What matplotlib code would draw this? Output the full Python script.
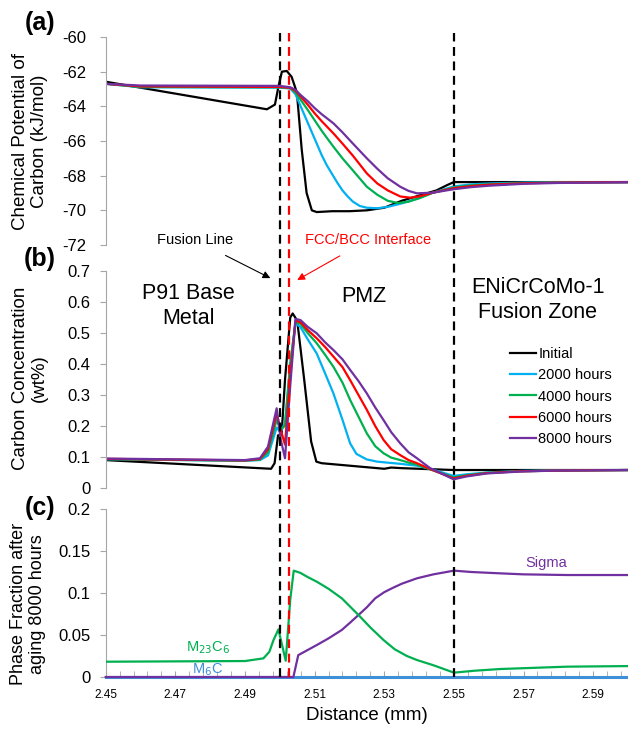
import numpy as np
import matplotlib
matplotlib.use('Agg')
import matplotlib.pyplot as plt
from matplotlib.lines import Line2D
from matplotlib.transforms import blended_transform_factory

plt.rcParams['font.family'] = ['Liberation Sans', 'DejaVu Sans']
plt.rcParams['axes.unicode_minus'] = False

# --- data ---
series_names = ['Initial', '2000 hours', '4000 hours', '6000 hours', '8000 hours']
series_colors = ['#000000', '#00b0f0', '#00b050', '#ff0000', '#7030a0']

# (a) chemical potential of carbon, kJ/mol
x_mu_init = [2.45, 2.4963, 2.4986, 2.4996, 2.5006, 2.502, 2.5034, 2.5049, 2.5063, 2.5077,
             2.5092, 2.5106, 2.515, 2.52, 2.525, 2.53, 2.535, 2.54, 2.545, 2.548, 2.55, 2.56, 2.60]
mu_init = [-62.58, -64.17, -63.9, -62.87, -62.0, -61.96, -62.3, -63.2, -66.5, -69.0,
           -70.0, -70.1, -70.05, -70.05, -70.0, -69.85, -69.45, -69.15, -68.85, -68.55,
           -68.37, -68.37, -68.37]
x_mu_2000 = [2.45, 2.46, 2.50, 2.503, 2.5045, 2.506, 2.5075, 2.509, 2.5105, 2.512, 2.5135,
             2.515, 2.5165, 2.518, 2.5195, 2.521, 2.523, 2.525, 2.528, 2.531, 2.535, 2.54,
             2.544, 2.55, 2.555, 2.56, 2.57, 2.58, 2.60]
mu_2000 = [-62.7, -62.9, -62.92, -62.97, -63.3, -64.0, -64.7, -65.4, -66.1, -66.8, -67.4,
           -67.9, -68.4, -68.85, -69.2, -69.5, -69.75, -69.85, -69.88, -69.8, -69.6, -69.3,
           -68.98, -68.62, -68.5, -68.45, -68.4, -68.38, -68.37]
x_mu_4000 = [2.45, 2.46, 2.50, 2.503, 2.5045, 2.506, 2.508, 2.510, 2.512, 2.514, 2.5154,
             2.518, 2.521, 2.525, 2.528, 2.531, 2.534, 2.537, 2.54, 2.544, 2.55, 2.555,
             2.56, 2.57, 2.58, 2.60]
mu_4000 = [-62.7, -62.88, -62.9, -62.95, -63.2, -63.63, -64.2, -64.8, -65.4, -65.95, -66.33,
           -67.0, -67.7, -68.64, -69.1, -69.45, -69.58, -69.5, -69.3, -68.98, -68.68,
           -68.56, -68.5, -68.42, -68.39, -68.37]
x_mu_6000 = [2.45, 2.46, 2.50, 2.503, 2.5045, 2.506, 2.508, 2.510, 2.512, 2.5154, 2.518,
             2.521, 2.525, 2.528, 2.531, 2.5346, 2.5375, 2.54, 2.544, 2.55, 2.555, 2.56,
             2.57, 2.58, 2.60]
mu_6000 = [-62.7, -62.85, -62.88, -62.93, -63.1, -63.44, -63.9, -64.4, -64.85, -65.56,
           -66.15, -66.85, -67.87, -68.45, -68.85, -69.2, -69.27, -69.2, -68.98, -68.72,
           -68.6, -68.52, -68.44, -68.4, -68.37]
x_mu_8000 = [2.45, 2.46, 2.50, 2.503, 2.5045, 2.506, 2.508, 2.510, 2.512, 2.5154, 2.518,
             2.521, 2.525, 2.528, 2.531, 2.5346, 2.537, 2.5394, 2.544, 2.55, 2.555, 2.56,
             2.57, 2.58, 2.60]
mu_8000 = [-62.7, -62.8, -62.82, -62.9, -63.05, -63.35, -63.7, -64.1, -64.45, -64.98,
           -65.5, -66.15, -67.0, -67.6, -68.15, -68.64, -68.88, -69.02, -68.98, -68.78,
           -68.66, -68.58, -68.47, -68.42, -68.38]

# (b) carbon concentration, wt%
x_c_init = [2.45, 2.4975, 2.4985, 2.4995, 2.5005, 2.5015, 2.503, 2.5037, 2.505, 2.507,
            2.509, 2.5105, 2.512, 2.53, 2.532, 2.535, 2.55, 2.60]
c_init = [0.090, 0.062, 0.08, 0.17, 0.17, 0.35, 0.55, 0.563, 0.54, 0.35, 0.15, 0.085,
          0.080, 0.062, 0.066, 0.064, 0.058, 0.058]
x_c_left = [2.45, 2.49, 2.4943, 2.4966, 2.4991, 2.5002, 2.5015, 2.503, 2.5045, 2.5059, 2.508]
x_c_2000 = x_c_left + [2.5106, 2.513, 2.5154, 2.518, 2.5202, 2.522, 2.525, 2.528, 2.5298,
                       2.5346, 2.5394, 2.5432, 2.5499, 2.5535, 2.5595, 2.569, 2.5786, 2.60]
c_2000 = [0.093, 0.088, 0.09, 0.105, 0.195, 0.18, 0.21, 0.40, 0.53, 0.52, 0.48,
          0.434, 0.37, 0.305, 0.22, 0.144, 0.11, 0.092, 0.085, 0.083, 0.078, 0.072, 0.062,
          0.039, 0.044, 0.05, 0.055, 0.057, 0.058]
x_c_4000 = x_c_left + [2.5106, 2.513, 2.5154, 2.518, 2.5202, 2.5226, 2.525, 2.5274, 2.5298,
                       2.532, 2.5346, 2.537, 2.5394, 2.5432, 2.5499, 2.5535, 2.5595, 2.569,
                       2.5786, 2.60]
c_4000 = [0.093, 0.088, 0.092, 0.115, 0.22, 0.19, 0.20, 0.40, 0.535, 0.53, 0.50,
          0.467, 0.43, 0.391, 0.34, 0.284, 0.23, 0.176, 0.135, 0.112, 0.098, 0.09, 0.082,
          0.075, 0.06, 0.034, 0.041, 0.049, 0.054, 0.056, 0.058]
x_c_6000 = x_c_4000
c_6000 = [0.094, 0.089, 0.094, 0.125, 0.24, 0.19, 0.14, 0.36, 0.54, 0.535, 0.51,
          0.483, 0.455, 0.424, 0.39, 0.348, 0.30, 0.252, 0.20, 0.155, 0.125, 0.106, 0.09,
          0.08, 0.061, 0.031, 0.039, 0.048, 0.054, 0.056, 0.058]
x_c_8000 = x_c_left + [2.5106, 2.513, 2.5154, 2.518, 2.5202, 2.5226, 2.525, 2.5274, 2.5298,
                       2.532, 2.5346, 2.537, 2.5394, 2.5415, 2.5432, 2.5499, 2.5535, 2.5595,
                       2.569, 2.5786, 2.60]
c_8000 = [0.095, 0.090, 0.096, 0.133, 0.257, 0.16, 0.096, 0.33, 0.545, 0.542, 0.52,
          0.499, 0.47, 0.445, 0.415, 0.381, 0.345, 0.305, 0.26, 0.219, 0.18, 0.144, 0.115,
          0.096, 0.078, 0.064, 0.028, 0.037, 0.047, 0.053, 0.056, 0.058]

# (c) phase fractions after 8000 h
x_m23c6 = [2.45, 2.49, 2.4953, 2.497, 2.4982, 2.4996, 2.5017, 2.503, 2.504, 2.5059, 2.508,
           2.5106, 2.514, 2.5178, 2.5226, 2.526, 2.5298, 2.533, 2.5365, 2.5394, 2.5441,
           2.55, 2.556, 2.5633, 2.5825, 2.60]
m23c6 = [0.0182, 0.019, 0.0222, 0.030, 0.044, 0.0567, 0.0194, 0.092, 0.1266, 0.124, 0.119,
         0.1135, 0.105, 0.0937, 0.0738, 0.059, 0.044, 0.033, 0.025, 0.0202, 0.014,
         0.0052, 0.0075, 0.0095, 0.0123, 0.013]
x_sigma = [2.45, 2.5039, 2.5053, 2.5075, 2.5106, 2.514, 2.5178, 2.52, 2.5226, 2.525, 2.5274,
           2.530, 2.5322, 2.535, 2.5394, 2.5441, 2.55, 2.555, 2.5633, 2.57, 2.5825, 2.60]
sigma = [0.0, 0.0, 0.026, 0.031, 0.038, 0.046, 0.056, 0.064, 0.0738, 0.083, 0.0937,
         0.101, 0.1056, 0.111, 0.1175, 0.1222, 0.1266, 0.125, 0.1234, 0.1222, 0.1214, 0.1214]
x_m6c = [2.45, 2.60]
m6c = [0.0, 0.0]

# boundary positions (mm)
fusion_line = 2.50
fcc_bcc = 2.5025
fz_boundary = 2.55

W, H = 628, 729
fig = plt.figure(figsize=(W / 100, H / 100), dpi=100)


def fx(px):
    return px / W


def fy(py):
    return 1 - py / H


left = fx(105.7)
width = 1 - left
ax_a = fig.add_axes([left, fy(245), width, fy(37) - fy(245)])
ax_b = fig.add_axes([left, fy(488), width, fy(271) - fy(488)])
ax_c = fig.add_axes([left, fy(677), width, fy(509) - fy(677)])

grey = '#a6a6a6'
for ax in (ax_a, ax_b, ax_c):
    ax.set_xlim(2.45, 2.60)
    for s in ('top', 'right'):
        ax.spines[s].set_visible(False)
    ax.spines['left'].set_color(grey)
    ax.spines['bottom'].set_color(grey)
    ax.tick_params(axis='y', direction='out', length=4, color=grey, labelsize=12)
for ax in (ax_a, ax_b):
    ax.spines['bottom'].set_visible(False)
    ax.set_xticks([])

lw = 1.6
mu_series = [(x_mu_init, mu_init), (x_mu_2000, mu_2000), (x_mu_4000, mu_4000),
             (x_mu_6000, mu_6000), (x_mu_8000, mu_8000)]
c_series = [(x_c_init, c_init), (x_c_2000, c_2000), (x_c_4000, c_4000),
            (x_c_6000, c_6000), (x_c_8000, c_8000)]

for (xs, ys), col, name in zip(mu_series, series_colors, series_names):
    ax_a.plot(xs, ys, color=col, lw=lw, label=name)
for (xs, ys), col, name in zip(c_series, series_colors, series_names):
    ax_b.plot(xs, ys, color=col, lw=lw, label=name)

ax_a.set_ylim(-72, -60)
ax_a.set_yticks(np.arange(-72, -59, 2))
ax_a.set_yticklabels([f'{v:d}' for v in range(-72, -59, 2)])
ax_a.tick_params(axis='y', pad=10)

ax_b.set_ylim(0, 0.7)
ax_b.set_yticks(np.arange(0, 0.71, 0.1))
ax_b.set_yticklabels(['0', '0.1', '0.2', '0.3', '0.4', '0.5', '0.6', '0.7'])
ax_b.tick_params(axis='y', pad=7)

ax_c.plot(x_m6c, m6c, color='#3d8fd8', lw=2.2, clip_on=False, zorder=3)
ax_c.plot(x_sigma, sigma, color='#7030a0', lw=lw, clip_on=False, zorder=4)
ax_c.plot(x_m23c6, m23c6, color='#00b050', lw=lw, zorder=5)
ax_c.set_ylim(0, 0.2)
ax_c.set_yticks([0, 0.05, 0.1, 0.15, 0.2])
ax_c.set_yticklabels(['0', '0.05', '0.1', '0.15', '0.2'])
ax_c.tick_params(axis='y', pad=7)
ax_c.set_xticks(np.arange(2.45, 2.6, 0.02))
ax_c.set_xticklabels([f'{v:.2f}' for v in np.arange(2.45, 2.6, 0.02)])
ax_c.set_xticks(np.arange(2.45, 2.6001, 0.004), minor=True)
ax_c.tick_params(axis='x', which='both', direction='in', length=4, color=grey,
                 labelsize=8.5, pad=9)

ax_c.text(2.4794, 0.0345, 'M$_{23}$C$_{6}$', color='#00b050', fontsize=10.5,
          ha='center', va='center')
ax_c.text(2.4794, 0.0083, 'M$_{6}$C', color='#3d8fd8', fontsize=10.5,
          ha='center', va='center')
ax_c.text(2.5765, 0.1357, 'Sigma', color='#7030a0', fontsize=10.5,
          ha='center', va='center')

# vertical boundary lines spanning all panels
for xv, col in ((fusion_line, 'k'), (fcc_bcc, '#ff0000'), (fz_boundary, 'k')):
    tr = blended_transform_factory(ax_c.transData, fig.transFigure)
    fig.add_artist(Line2D([xv, xv], [fy(677), fy(33)], transform=tr, color=col,
                          lw=1.6, dashes=(4, 2.5), zorder=10))

# legend
ax_b.legend(loc='upper left', bbox_to_anchor=(fx(510), fy(347)),
            bbox_transform=fig.transFigure, frameon=False, fontsize=10.5,
            handlelength=1.8, handletextpad=0.15, labelspacing=0.5,
            borderpad=0, borderaxespad=0)

# region labels
fig.text(fx(188), fy(306), 'P91 Base\nMetal', fontsize=15.5, ha='center', va='center')
fig.text(fx(364), fy(297), 'PMZ', fontsize=15.5, ha='center', va='center')
fig.text(fx(538), fy(300), 'ENiCrCoMo-1\nFusion Zone', fontsize=15.5, ha='center',
         va='center')

# interface annotations
ax_b.annotate('Fusion Line', xy=(2.4973, 0.677), xycoords='data',
              xytext=(fx(195), fy(240)), textcoords='figure fraction',
              fontsize=10.5, ha='center', va='center',
              arrowprops=dict(arrowstyle='-|>', color='k', lw=0.8, mutation_scale=11,
                              shrinkA=9, shrinkB=0))
ax_b.annotate('FCC/BCC Interface', xy=(2.505, 0.671), xycoords='data',
              xytext=(fx(368), fy(240)), textcoords='figure fraction',
              fontsize=10.5, ha='center', va='center', color='#ff0000',
              arrowprops=dict(arrowstyle='-|>', color='#ff0000', lw=0.8,
                              mutation_scale=11, shrinkA=9, shrinkB=0))

# axis titles
fig.text(fx(30), fy(141), 'Chemical Potential of\nCarbon (kJ/mol)', rotation=90,
         fontsize=13.5, ha='center', va='center', multialignment='center')
fig.text(fx(30), fy(378), 'Carbon Concentration\n(wt%)', rotation=90,
         fontsize=13.5, ha='center', va='center', multialignment='center')
fig.text(fx(28), fy(604), 'Phase Fraction after\naging 8000 hours', rotation=90,
         fontsize=13, ha='center', va='center', multialignment='center')
fig.text(fx(367), fy(716), 'Distance (mm)', fontsize=13.5, ha='center', va='center')

for lab, py in (('(a)', 23), ('(b)', 259), ('(c)', 508)):
    fig.text(fx(40), fy(py), lab, fontsize=18, fontweight='bold', ha='center', va='center')

fig.savefig('out.png', dpi=100)
